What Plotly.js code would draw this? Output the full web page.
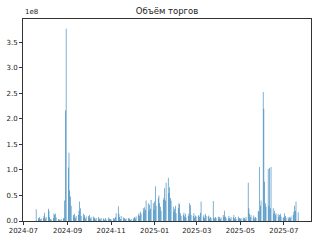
<!DOCTYPE html>
<html>
<head>
<meta charset="utf-8">
<script src="https://cdn.plot.ly/plotly-3.0.1.min.js"></script>
<style>
html,body{margin:0;padding:0;background:#fff;}
#chart{width:320px;height:240px;}
#chart .barlayer path{shape-rendering:geometricPrecision !important;}
</style>
</head>
<body>
<div id="chart"></div>
<script>
// Trading days per month and daily trading volume in millions (×1e6).
const days_2024_07 = [19, 22, 23, 24, 25, 26, 29, 30, 31];
const vol_2024_07  = [23, 6, 4, 8, 3, 5, 6, 10, 16];
const days_2024_08 = [1, 2, 5, 6, 7, 8, 9, 12, 13, 14, 15, 16, 19, 20, 21, 22, 23, 26, 27, 28, 29, 30];
const vol_2024_08  = [5, 8, 24, 20, 8, 4, 3, 6, 15, 12, 14, 7, 4, 2, 3, 1, 4, 5, 6, 40, 217, 377];
const days_2024_09 = [2, 3, 4, 5, 6, 9, 10, 11, 12, 13, 16, 17, 18, 19, 20, 23, 24, 25, 26, 27, 30];
const vol_2024_09  = [105, 134, 60, 48, 30, 12, 8, 14, 6, 10, 12, 20, 38, 25, 10, 14, 8, 12, 5, 9, 10];
const days_2024_10 = [1, 2, 3, 4, 7, 8, 9, 10, 11, 14, 15, 16, 17, 18, 21, 22, 23, 24, 25, 28, 29, 30, 31];
const vol_2024_10  = [6, 12, 5, 8, 9, 5, 7, 3, 6, 8, 4, 5, 3, 6, 5, 4, 2, 6, 3, 7, 3, 5, 4];
const days_2024_11 = [1, 4, 5, 6, 7, 8, 11, 12, 13, 14, 15, 18, 19, 20, 21, 22, 25, 26, 27, 28, 29];
const vol_2024_11  = [3, 6, 3, 5, 8, 15, 29, 14, 8, 4, 10, 7, 4, 6, 3, 5, 6, 3, 5, 2, 4];
const days_2024_12 = [2, 3, 4, 5, 6, 9, 10, 11, 12, 13, 16, 17, 18, 19, 20, 23, 24, 25, 26, 27, 30, 31];
const vol_2024_12  = [4, 6, 8, 5, 9, 12, 15, 10, 18, 14, 25, 18, 27, 22, 40, 35, 20, 32, 24, 41, 35, 22];
const days_2025_01 = [1, 2, 3, 6, 7, 8, 9, 10, 13, 14, 15, 16, 17, 20, 21, 22, 23, 24, 27, 28, 29, 30, 31];
const vol_2025_01  = [38, 68, 30, 45, 50, 35, 28, 20, 41, 45, 64, 40, 75, 85, 55, 66, 45, 40, 28, 18, 24, 30, 15];
const days_2025_02 = [3, 4, 5, 6, 7, 10, 11, 12, 13, 14, 17, 18, 19, 20, 21, 24, 25, 26, 27, 28];
const vol_2025_02  = [25, 35, 33, 15, 10, 12, 16, 9, 14, 7, 10, 14, 35, 31, 12, 10, 15, 7, 11, 9];
const days_2025_03 = [3, 4, 5, 6, 7, 10, 11, 12, 13, 14, 17, 18, 19, 20, 21, 24, 25, 26, 27, 28, 31];
const vol_2025_03  = [10, 12, 8, 16, 38, 9, 12, 6, 14, 10, 9, 11, 5, 8, 6, 39, 7, 5, 8, 6, 9];
const days_2025_04 = [1, 2, 3, 4, 7, 8, 9, 10, 11, 14, 15, 16, 17, 18, 21, 22, 23, 24, 25, 28, 29, 30];
const vol_2025_04  = [5, 8, 4, 7, 12, 8, 20, 9, 6, 5, 10, 6, 4, 8, 7, 12, 5, 8, 4, 9, 5, 6];
const days_2025_05 = [1, 2, 5, 6, 7, 8, 9, 12, 13, 14, 15, 16, 19, 20, 21, 22, 23, 26, 27, 28, 29, 30];
const vol_2025_05  = [4, 6, 7, 4, 6, 3, 8, 75, 25, 14, 8, 12, 7, 11, 5, 8, 6, 20, 18, 106, 30, 40];
const days_2025_06 = [2, 3, 4, 5, 6, 9, 10, 11, 12, 13, 16, 17, 18, 19, 20, 23, 24, 25, 26, 27, 30];
const vol_2025_06  = [253, 220, 77, 35, 28, 102, 30, 104, 25, 106, 25, 15, 20, 12, 15, 13, 8, 12, 14, 9, 6];
const days_2025_07 = [1, 2, 3, 4, 7, 8, 9, 10, 11, 14, 15, 16, 17, 18, 21];
const vol_2025_07  = [8, 15, 10, 6, 7, 4, 8, 6, 9, 12, 18, 30, 20, 38, 17];

const months = [
  ['2024-07', days_2024_07, vol_2024_07], ['2024-08', days_2024_08, vol_2024_08],
  ['2024-09', days_2024_09, vol_2024_09], ['2024-10', days_2024_10, vol_2024_10],
  ['2024-11', days_2024_11, vol_2024_11], ['2024-12', days_2024_12, vol_2024_12],
  ['2025-01', days_2025_01, vol_2025_01], ['2025-02', days_2025_02, vol_2025_02],
  ['2025-03', days_2025_03, vol_2025_03], ['2025-04', days_2025_04, vol_2025_04],
  ['2025-05', days_2025_05, vol_2025_05], ['2025-06', days_2025_06, vol_2025_06],
  ['2025-07', days_2025_07, vol_2025_07]
];

const yTickVals = [0, 0.5e8, 1.0e8, 1.5e8, 2.0e8, 2.5e8, 3.0e8, 3.5e8];
const yTickText = ['0.0', '0.5', '1.0', '1.5', '2.0', '2.5', '3.0', '3.5'];
const titleText = 'Объём торгов';
const offsetText = '1e8';

const xs = [], ys = [];
months.forEach(([m, days, vals]) => {
  days.forEach((d, i) => {
    xs.push(m + '-' + (d < 10 ? '0' + d : d));
    ys.push(vals[i] * 1e6);
  });
});

const fontFam = 'DejaVu Sans, sans-serif';
const trace = {
  type: 'bar', x: xs, y: ys,
  width: 0.8 * 86400000,
  marker: {color: '#1f77b4', line: {width: 0}},
  opacity: 1,
  hoverinfo: 'skip'
};

const layout = {
  width: 320, height: 240,
  margin: {l: 23, r: 9, t: 19, b: 19, pad: 0},
  paper_bgcolor: '#fff', plot_bgcolor: '#fff',
  showlegend: false,
  bargap: 0,
  title: {text: titleText, font: {family: fontFam, size: 8.5, color: '#222'},
          x: 0.522, xanchor: 'center', xref: 'container', y: 0.953, yanchor: 'middle', yref: 'container'},
  xaxis: {
    type: 'date',
    range: ['2024-06-30 14:00', '2025-08-08'],
    tick0: '2024-07-01', dtick: 'M2', tickformat: '%Y-%m',
    ticks: 'outside', ticklen: 3, tickwidth: 1, tickcolor: '#333',
    showgrid: false, zeroline: false,
    showline: true, linecolor: '#333', linewidth: 1, mirror: true,
    tickfont: {family: fontFam, size: 7, color: '#222'}
  },
  yaxis: {
    range: [0, 3.96e8],
    tickmode: 'array', tickvals: yTickVals, ticktext: yTickText,
    ticks: 'outside', ticklen: 3, tickwidth: 1, tickcolor: '#333',
    showgrid: false, zeroline: false,
    showline: true, linecolor: '#333', linewidth: 1, mirror: true,
    tickfont: {family: fontFam, size: 7, color: '#222'}
  },
  annotations: [{
    text: offsetText, xref: 'paper', yref: 'paper', x: 0, y: 1,
    xanchor: 'left', yanchor: 'bottom', yshift: 1, showarrow: false,
    font: {family: fontFam, size: 7, color: '#222'}
  }]
};

Plotly.newPlot('chart', [trace], layout, {staticPlot: true, displayModeBar: false});
</script>
</body>
</html>
